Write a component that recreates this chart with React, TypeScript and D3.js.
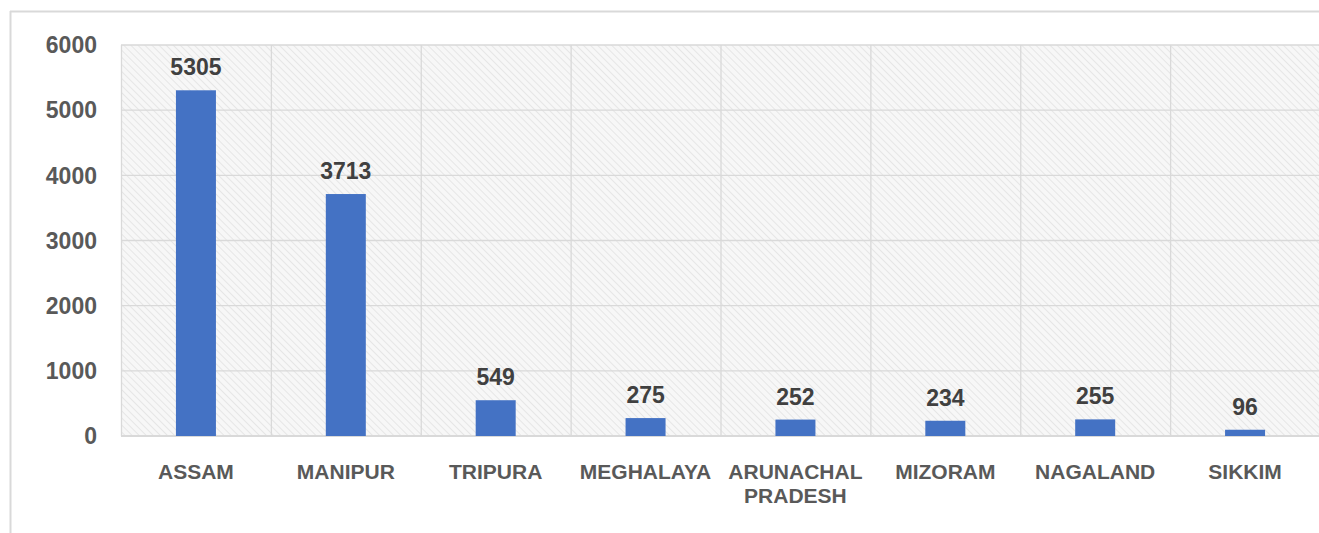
import React from 'react';
import * as d3 from 'd3';

const width = 1319;
const height = 533;
const margin = { top: 45, right: -1, bottom: 97, left: 121 };

const states = ['ASSAM', 'MANIPUR', 'TRIPURA', 'MEGHALAYA', 'ARUNACHAL PRADESH', 'MIZORAM', 'NAGALAND', 'SIKKIM'];
const stateLines = [['ASSAM'], ['MANIPUR'], ['TRIPURA'], ['MEGHALAYA'], ['ARUNACHAL', 'PRADESH'], ['MIZORAM'], ['NAGALAND'], ['SIKKIM']];
const counts = [5305, 3713, 549, 275, 252, 234, 255, 96];
const yTicks = [0, 1000, 2000, 3000, 4000, 5000, 6000];

const font = '"Liberation Sans", Arial, sans-serif';

export default function App() {
  const x = d3.scaleBand().domain(states).range([margin.left, width - margin.right]).paddingInner(0).paddingOuter(0);
  const y = d3.scaleLinear().domain([0, 6000]).range([height - margin.bottom, margin.top]);
  const barW = 40;
  const plotBottom = y(0);

  return (
    <svg width={width} height={height} style={{ position: 'absolute', left: 0, top: 0, background: '#fff' }}>
      <defs>
        <pattern id="hatch" width="5" height="5" patternUnits="userSpaceOnUse" patternTransform="rotate(-45)">
          <rect width="5" height="5" fill="#f7f7f7" />
          <line x1="0" y1="0" x2="0" y2="5" stroke="#e6e6e6" strokeWidth="2" />
        </pattern>
      </defs>
      {/* outer chart border */}
      <line x1={10} y1={11.5} x2={width} y2={11.5} stroke="#d9d9d9" strokeWidth={2} />
      <line x1={10.5} y1={11} x2={10.5} y2={height} stroke="#d9d9d9" strokeWidth={2} />

      <rect x={margin.left} y={margin.top} width={width - margin.right - margin.left} height={plotBottom - margin.top} fill="url(#hatch)" />

      {yTicks.map(t => (
        <g key={t}>
          <line x1={margin.left} x2={width - margin.right} y1={y(t)} y2={y(t)} stroke="#d9d9d9" strokeWidth={t === 0 ? 2 : 1.3} />
          <text x={97} y={y(t)} dy="0.36em" textAnchor="end" fontFamily={font} fontWeight="bold" fontSize={23} fill="#595959">{t}</text>
        </g>
      ))}
      {states.map(s => (
        <line key={s} x1={x(s)! + 0.5} x2={x(s)! + 0.5} y1={margin.top} y2={plotBottom} stroke="#d9d9d9" strokeWidth={1.3} />
      ))}

      {states.map((s, i) => {
        const cx = x(s)! + x.bandwidth() / 2;
        return (
          <g key={s}>
            <rect x={cx - barW / 2} y={y(counts[i])} width={barW} height={plotBottom - y(counts[i])} fill="#4472c4" />
            <text x={cx} y={y(counts[i]) - 15} textAnchor="middle" fontFamily={font} fontWeight="bold" fontSize={23} fill="#404040">{counts[i]}</text>
            {stateLines[i].map((ln, j) => (
              <text key={ln} x={cx} y={479 + j * 24} textAnchor="middle" fontFamily={font} fontWeight="bold" fontSize={21} fill="#595959">{ln}</text>
            ))}
          </g>
        );
      })}
    </svg>
  );
}
